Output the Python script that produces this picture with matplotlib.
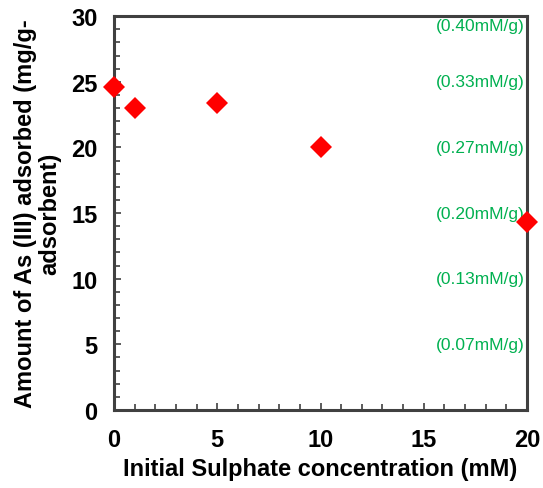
import matplotlib.pyplot as plt
from matplotlib.ticker import MultipleLocator

# data
sulphate = [0, 1, 5, 10, 20]
as_adsorbed = [24.6, 23.0, 23.4, 20.0, 14.35]
mm_levels = [30, 25, 20, 15, 10, 5]
mm_labels = ["(0.40mM/g)", "(0.33mM/g)", "(0.27mM/g)", "(0.20mM/g)",
             "(0.13mM/g)", "(0.07mM/g)"]

plt.rcParams['font.family'] = ['Liberation Sans', 'DejaVu Sans']

fig = plt.figure(figsize=(5.43, 4.89), dpi=100)
ax = fig.add_axes([0.21, 0.1595, 0.7605, 0.8055])

ax.plot(sulphate, as_adsorbed, linestyle='none', marker='D', ms=11,
        mew=0, color='red', clip_on=False, zorder=5)

ax.set_xlim(0, 20)
ax.set_ylim(0, 30)
ax.xaxis.set_major_locator(MultipleLocator(5))
ax.xaxis.set_minor_locator(MultipleLocator(1))
ax.yaxis.set_major_locator(MultipleLocator(5))
ax.yaxis.set_minor_locator(MultipleLocator(1))
ax.tick_params(which='both', direction='in', color='#404040', width=1.2,
               labelsize=17)
ax.tick_params(which='major', length=5)
ax.tick_params(which='minor', length=4)
ax.tick_params(axis='x', pad=13)
ax.tick_params(axis='y', pad=12)
for lab in ax.get_xticklabels() + ax.get_yticklabels():
    lab.set_fontweight('bold')
for s in ax.spines.values():
    s.set_color('#404040')
    s.set_linewidth(2.2)

# green mM/g annotations along the right edge
for lv, txt in zip(mm_levels, mm_labels):
    yy = lv - 0.75 if lv == 30 else lv
    ax.text(19.9, yy, txt, color='#00B050', fontsize=12.5, ha='right', va='center')

ax.set_xlabel("Initial Sulphate concentration (mM)", fontsize=17,
              fontweight='bold', labelpad=4)
ax.set_ylabel("Amount of As (III) adsorbed (mg/g-\nadsorbent)", fontsize=17,
              fontweight='bold', labelpad=7, linespacing=1.05)

fig.savefig("out.png", dpi=100)
